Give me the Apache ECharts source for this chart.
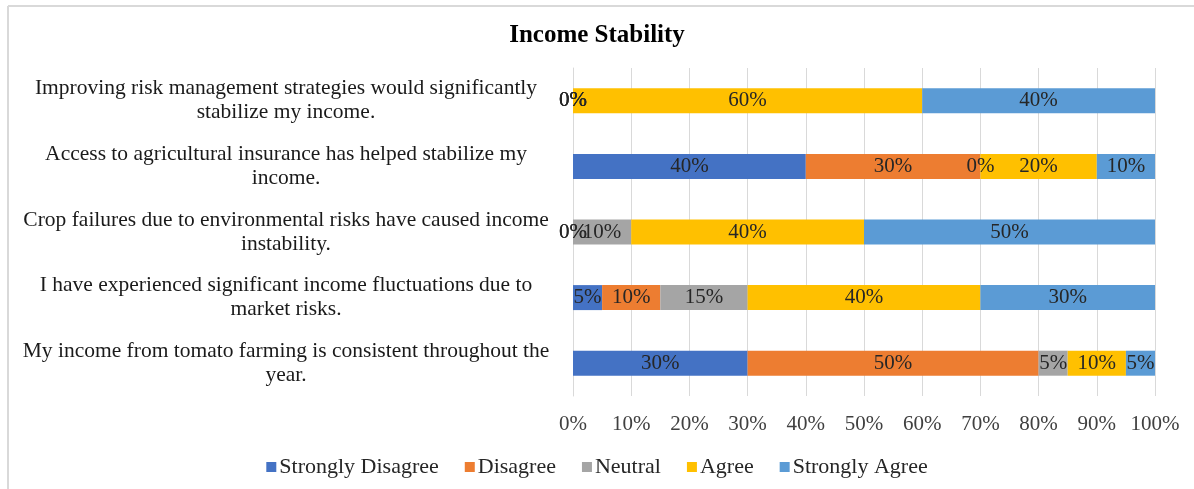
<!DOCTYPE html>
<html>
<head>
<meta charset="utf-8">
<script src="https://cdn.jsdelivr.net/npm/echarts@6/dist/echarts.min.js"></script>
<style>
  html, body { margin: 0; padding: 0; background: #ffffff; }
  #chart { width: 1194px; height: 489px; }
</style>
</head>
<body>
<div id="chart"></div>
<script>
// Survey statements, listed top to bottom
const categories = [
  "Improving risk management strategies would significantly\nstabilize my income.",
  "Access to agricultural insurance has helped stabilize my\nincome.",
  "Crop failures due to environmental risks have caused income\ninstability.",
  "I have experienced significant income fluctuations due to\nmarket risks.",
  "My income from tomato farming is consistent throughout the\nyear."
];

// Share of respondents (%) per response level
const stronglyDisagree = [0, 40, 0, 5, 30];
const disagree         = [0, 30, 0, 10, 50];
const neutral          = [0, 0, 10, 15, 5];
const agree            = [60, 20, 40, 40, 10];
const stronglyAgree    = [40, 10, 50, 30, 5];

const seriesNames = ["Strongly Disagree", "Disagree", "Neutral", "Agree", "Strongly Agree"];
const seriesData = [stronglyDisagree, disagree, neutral, agree, stronglyAgree];
const seriesColors = ["#4472C4", "#ED7D31", "#A5A5A5", "#FFC000", "#5B9BD5"];

const FONT = "'Liberation Serif', 'Times New Roman', serif";

const chart = echarts.init(document.getElementById('chart'));

chart.setOption({
  animation: false,
  backgroundColor: '#ffffff',
  title: {
    text: 'Income Stability',
    left: 'center',
    top: 18,
    textStyle: { fontFamily: FONT, fontSize: 25, fontWeight: 'bold', color: '#000000' }
  },
  legend: {
    data: seriesNames,
    left: 'center',
    top: 451,
    itemWidth: 10,
    itemHeight: 10,
    itemGap: 26,
    icon: 'rect',
    textStyle: { fontFamily: FONT, fontSize: 22, color: '#262626', padding: [0, 0, 0, -2] }
  },
  grid: { left: 573, right: 39, top: 68, bottom: 93, containLabel: false },
  xAxis: {
    type: 'value',
    min: 0,
    max: 100,
    interval: 10,
    axisLine: { show: false },
    axisTick: { show: false },
    splitLine: { show: true, lineStyle: { color: '#d9d9d9', width: 1 } },
    axisLabel: {
      formatter: '{value}%',
      margin: 18,
      fontFamily: FONT,
      fontSize: 21,
      color: '#404040'
    }
  },
  yAxis: {
    type: 'category',
    data: categories,
    inverse: true,
    axisLine: { show: true, lineStyle: { color: '#d9d9d9' } },
    axisTick: { show: false },
    axisLabel: {
      align: 'center',
      margin: 287,
      lineHeight: 24,
      fontFamily: FONT,
      fontSize: 21.5,
      color: '#1a1a1a'
    }
  },
  series: seriesNames.map((name, i) => ({
    name: name,
    type: 'bar',
    stack: 'total',
    barWidth: 25,
    data: seriesData[i],
    itemStyle: { color: seriesColors[i] },
    label: {
      show: true,
      position: 'inside',
      formatter: '{c}%',
      fontFamily: FONT,
      fontSize: 21,
      color: '#262626'
    }
  })),
  graphic: [
    { type: 'line', shape: { x1: 8, y1: 6, x2: 1194, y2: 6 }, style: { stroke: '#d9d9d9', lineWidth: 2 } },
    { type: 'line', shape: { x1: 8, y1: 6, x2: 8, y2: 489 }, style: { stroke: '#d9d9d9', lineWidth: 2 } }
  ]
});
</script>
</body>
</html>
